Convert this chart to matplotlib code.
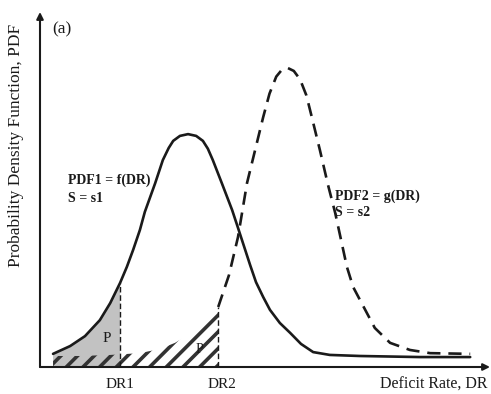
import numpy as np
import matplotlib
matplotlib.use("Agg")
import matplotlib.pyplot as plt

plt.rcParams['font.family'] = ['Liberation Serif', 'DejaVu Serif']
plt.rcParams['hatch.linewidth'] = 2.6

# Data (DR in arbitrary units 0-10, PDF 0-1)
pdf1_dr = [0.29, 0.67, 1.0, 1.33, 1.56, 1.78, 1.93, 2.07, 2.22, 2.33, 2.56, 2.73,
           2.86, 2.96, 3.11, 3.29, 3.47, 3.62, 3.73, 3.84, 4.04, 4.27, 4.4, 4.67,
           4.8, 4.96, 5.11, 5.33, 5.56, 5.8, 6.07, 6.44, 7.11, 8.44, 9.56]
pdf1_val = [0.037, 0.059, 0.087, 0.132, 0.180, 0.237, 0.282, 0.330, 0.386, 0.437,
            0.518, 0.583, 0.617, 0.637, 0.651, 0.656, 0.651, 0.637, 0.615, 0.583,
            0.518, 0.442, 0.392, 0.287, 0.239, 0.197, 0.161, 0.124, 0.096, 0.065,
            0.042, 0.034, 0.031, 0.028, 0.028]

pdf2_dr = [0.29, 0.89, 1.56, 2.22, 2.67, 3.0, 3.33, 3.67, 3.96, 4.2, 4.4, 4.6,
           4.78, 4.96, 5.1, 5.25, 5.38, 5.51, 5.64, 5.78, 5.92, 6.04, 6.22, 6.4,
           6.56, 6.82, 6.96, 7.11, 7.44, 7.78, 8.22, 8.67, 9.56]
pdf2_val = [0.031, 0.031, 0.034, 0.039, 0.051, 0.068, 0.093, 0.127, 0.169, 0.259,
            0.366, 0.518, 0.611, 0.704, 0.770, 0.818, 0.838, 0.842, 0.834, 0.810,
            0.765, 0.704, 0.611, 0.513, 0.434, 0.282, 0.225, 0.189, 0.110, 0.068,
            0.048, 0.039, 0.037]

dr1 = 1.78
dr2 = 3.96

fig = plt.figure(figsize=(4.91, 3.94), dpi=100)
ax = fig.add_axes([40/491, 27/394, 450/491, 355/394])
ax.set_xlim(0, 10)
ax.set_ylim(0, 1)
ax.axis('off')

ink = '#1a1a1a'

# axes with arrows
ax.annotate('', xy=(0, 1.0), xytext=(0, 0), xycoords='data',
            arrowprops=dict(arrowstyle='-|>', color=ink, lw=1.5,
                            mutation_scale=10, shrinkA=0, shrinkB=0),
            annotation_clip=False)
ax.annotate('', xy=(10.0, 0), xytext=(0, 0), xycoords='data',
            arrowprops=dict(arrowstyle='-|>', color=ink, lw=1.5,
                            mutation_scale=10, shrinkA=0, shrinkB=0),
            annotation_clip=False)

x1 = np.array(pdf1_dr)
y1 = np.array(pdf1_val)
x2 = np.array(pdf2_dr)
y2 = np.array(pdf2_val)

# grey area under PDF1 up to DR1
m1 = x1 <= dr1 + 1e-9
ax.fill_between(x1[m1], 0, y1[m1], facecolor='#c2c2c2', edgecolor='none', zorder=1)

# hatched area under PDF2 up to DR2
m2 = x2 <= dr2 + 1e-9
ax.fill_between(x2[m2], 0, y2[m2], facecolor='none', edgecolor='#333333',
                hatch='//', linewidth=0, zorder=2)

# curves
ax.plot(x1, y1, color=ink, lw=1.9, zorder=3, solid_capstyle='round',
        solid_joinstyle='round')
m2b = x2 >= dr2 - 1e-9
ax.plot(x2[m2b], y2[m2b], color=ink, lw=1.9, ls=(0, (5, 3)), zorder=3)

# vertical dashed lines
ax.plot([dr1, dr1], [0, y1[m1][-1]], color=ink, lw=1.0, ls=(0, (4, 2)), zorder=3)
ax.plot([dr2, dr2], [0, y2[m2][-1]], color=ink, lw=1.0, ls=(0, (4, 2)), zorder=3)

fs = 11
ax.text(dr1, -0.05, 'DR1', ha='center', va='center', fontsize=fs, color=ink)
ax.text(dr2 + 0.08, -0.05, 'DR2', ha='center', va='center', fontsize=fs, color=ink)
ax.text(9.95, -0.05, 'Deficit Rate, DR', ha='right', va='center', fontsize=11.5,
        color=ink)
ax.text(1.48, 0.08, 'P', ha='center', va='center', fontsize=fs, color=ink)
ax.text(3.55, 0.05, 'P', ha='center', va='center', fontsize=fs - 1, color=ink)
ax.text(0.27, 0.95, '(a)', ha='left', va='center', fontsize=12.5, color=ink)
ax.text(0.62, 0.525, 'PDF1 = f(DR)', ha='left', va='center', fontsize=10,
        fontweight='bold', color=ink)
ax.text(0.62, 0.475, 'S = s1', ha='left', va='center', fontsize=10,
        fontweight='bold', color=ink)
ax.text(6.56, 0.48, 'PDF2 = g(DR)', ha='left', va='center', fontsize=10,
        fontweight='bold', color=ink)
ax.text(6.56, 0.435, 'S = s2', ha='left', va='center', fontsize=10,
        fontweight='bold', color=ink)

fig.text(16/491, 1 - 145/394, 'Probability Density Function, PDF', rotation=90,
         ha='center', va='center', fontsize=12.5, color=ink)

fig.savefig('out.png', dpi=100)
